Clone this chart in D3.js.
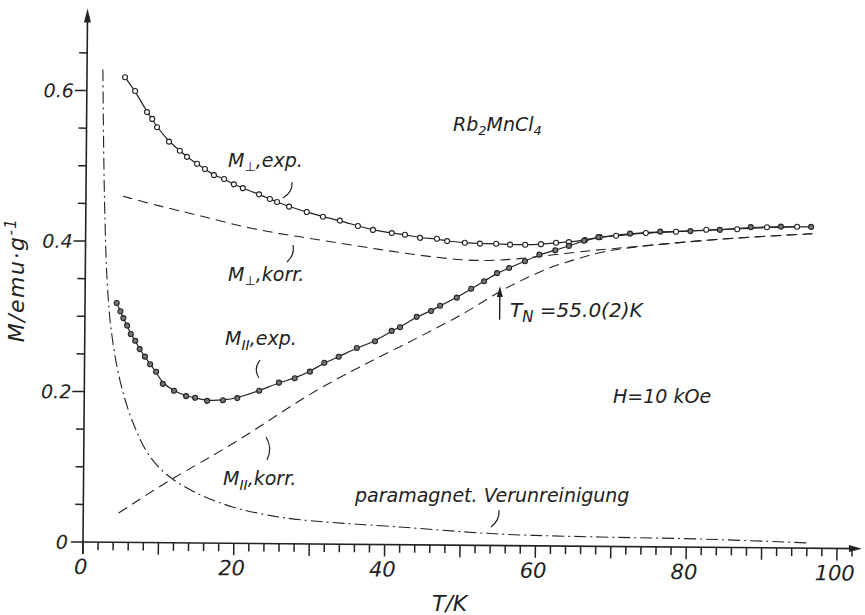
<!DOCTYPE html>
<html>
<head>
<meta charset="utf-8">
<script src="https://cdn.jsdelivr.net/npm/d3@7"></script>
<style>
  html, body { margin: 0; padding: 0; background: #fff; }
  svg text { font-family: "DejaVu Sans", "Liberation Sans", sans-serif; font-style: italic; fill: #222; }
</style>
</head>
<body>
<svg id="chart" width="865" height="615"></svg>
<script>
// Rb2MnCl4, H = 10 kOe : magnetisation M (emu/g) against temperature T (K)

// perpendicular field, measured (open circles)
const perpExpT = [5.05, 6.4, 8.0, 8.7, 9.35, 10.95, 12.4, 13.35, 14.7, 15.75, 16.95, 18.3, 19.6, 20.8,
  22.95, 24.4, 25.35, 26.95, 29.3, 31.45, 33.7, 36.1, 38.1, 40.6, 42.35, 44.35, 46.6, 47.95,
  50.3, 52.3, 54.45, 56.3, 58.3, 60.4, 62.4, 64.1, 66.25, 68.2, 70.35, 74.3, 78.3, 82.3, 86.4, 90.35, 94.35];
const perpExpM = [0.618, 0.600, 0.572, 0.563, 0.552, 0.533, 0.521, 0.513, 0.504, 0.497, 0.489, 0.484, 0.477, 0.472,
  0.464, 0.458, 0.454, 0.448, 0.441, 0.435, 0.430, 0.423, 0.418, 0.414, 0.412, 0.408, 0.407, 0.404,
  0.402, 0.401, 0.401, 0.400, 0.400, 0.401, 0.403, 0.404, 0.407, 0.411, 0.413, 0.417, 0.419, 0.422, 0.423, 0.426, 0.427];

// parallel field, measured (filled circles)
const parExpT = [4.2, 4.7, 5.1, 5.6, 6.1, 6.7, 7.3, 8.0, 8.7, 9.5, 10.4, 11.9, 13.5, 14.7, 16.3, 18.4, 20.3,
  23.2, 25.8, 27.9, 29.9, 31.8, 33.7, 36.1, 38.5, 40.7, 41.8, 44.0, 45.9, 47.1, 49.3, 51.2, 52.9,
  54.6, 56.2, 58.3, 60.2, 62.3, 64.1, 66.1, 68.0, 72.2, 76.2, 80.2, 84.1, 88.2, 92.2, 96.2];
const parExpM = [0.318, 0.307, 0.298, 0.288, 0.277, 0.268, 0.257, 0.247, 0.237, 0.227, 0.211, 0.202, 0.195, 0.193, 0.189, 0.190, 0.193,
  0.203, 0.214, 0.220, 0.229, 0.241, 0.249, 0.261, 0.270, 0.284, 0.289, 0.303, 0.311, 0.318, 0.329, 0.341, 0.351,
  0.362, 0.369, 0.378, 0.387, 0.393, 0.399, 0.406, 0.411, 0.416, 0.419, 0.420, 0.422, 0.426, 0.427, 0.427];

// corrected curves (dashed)
const perpKorrT = [4.9, 9.8, 15.2, 21.8, 28.4, 35.1, 41.7, 48.4, 52.3, 56.7, 62.0, 67.8, 72.2, 81.9, 88.5, 96.4];
const perpKorrM = [0.460, 0.447, 0.435, 0.418, 0.408, 0.398, 0.388, 0.380, 0.378, 0.380, 0.387, 0.394, 0.398, 0.408, 0.413, 0.418];
const parKorrT = [4.7, 11.9, 19.8, 28.2, 33.5, 37.5, 41.8, 46.2, 50.7, 54.1, 57.3, 61.6, 66.0, 68.2, 72.2, 81.9, 88.5, 96.4];
const parKorrM = [0.039, 0.087, 0.131, 0.189, 0.220, 0.241, 0.263, 0.286, 0.310, 0.333, 0.350, 0.371, 0.384, 0.391, 0.398, 0.408, 0.413, 0.418];

// paramagnetic impurity contribution (dash-dot)
const paraT = [2.1, 2.3, 2.55, 2.9, 3.5, 4.7, 6.5, 8.8, 11.5, 15.5, 19.9, 24.4, 28.8, 42.0, 55.3, 68.6, 81.8, 96.4];
const paraM = [0.628, 0.521, 0.428, 0.348, 0.282, 0.216, 0.159, 0.114, 0.087, 0.064, 0.048, 0.038, 0.032, 0.0235, 0.0153, 0.0125, 0.011, 0.0069];

// axis ticks
const xTicks = d3.range(0, 104, 2);
const xLabels = [0, 20, 40, 60, 80, 100];
const yTicks = d3.range(0, 14).map(i => +(i * 0.05).toFixed(2));
const yLabels = [0, 0.2, 0.4, 0.6];

const tN = 55.0;

const ink = "#222";
const svg = d3.select("#chart");
const x = d3.scaleLinear().domain([0, 100]).range([83, 837]);
const y = d3.scaleLinear().domain([0, 0.6]).range([542, 90.5]);
const x0 = x(0), y0 = y(0);

// the plot sits on a very slightly turned sheet
const plot = svg.append("g").attr("transform", `rotate(0.49, ${x0}, ${y0})`);

// tick marks
const tickPath = xTicks.map(d => `M${x(d)},${y0}V${y0 + (d % 10 === 0 ? 12 : 8)}`).join("") +
  yTicks.map(d => `M${x0},${y(d)}H${x0 - (yLabels.includes(d) ? 12 : 8)}`).join("");
plot.append("path").attr("class", "ticks").attr("d", tickPath)
  .attr("fill", "none").attr("stroke", ink).attr("stroke-width", 1.5);

// tick labels
plot.append("g").selectAll("text").data(xLabels).join("text")
  .attr("x", d => x(d) - 2).attr("y", y0 + 32).attr("text-anchor", "middle")
  .attr("font-size", 21).text(d => d);
plot.append("g").selectAll("text").data(yLabels).join("text")
  .attr("x", d => x0 - (d === 0 ? 15 : 13)).attr("y", d => y(d) + 7).attr("text-anchor", "end")
  .attr("font-size", 19).text(d => d === 0 ? "0" : d3.format(".1f")(d));

// axis lines with arrow heads
const xEnd = x.range()[1] + 25, yEnd = y.range()[1] - 82;
plot.append("line").attr("x1", x0).attr("y1", y0).attr("x2", xEnd - 6).attr("y2", y0)
  .attr("stroke", ink).attr("stroke-width", 1.6);
plot.append("line").attr("x1", x0).attr("y1", y0 + 12).attr("x2", x0).attr("y2", yEnd + 6)
  .attr("stroke", ink).attr("stroke-width", 1.6);
plot.append("path").attr("d", `M${xEnd},${y0} L${xEnd - 13},${y0 - 3.5} L${xEnd - 13},${y0 + 3.5} Z`).attr("fill", ink);
plot.append("path").attr("d", `M${x0},${yEnd} L${x0 - 3.5},${yEnd + 14} L${x0 + 3.5},${yEnd + 14} Z`).attr("fill", ink);

// curves
const zip = (ts, ms) => ts.map((t, i) => [t, ms[i]]);
const smooth = d3.line().x(d => x(d[0])).y(d => y(d[1])).curve(d3.curveBasis);
const through = d3.line().x(d => x(d[0])).y(d => y(d[1])).curve(d3.curveCatmullRom.alpha(0.5));

plot.append("path").attr("d", smooth(zip(perpKorrT, perpKorrM)))
  .attr("fill", "none").attr("stroke", ink).attr("stroke-width", 1.1).attr("stroke-dasharray", "10,6");
plot.append("path").attr("d", smooth(zip(parKorrT, parKorrM)))
  .attr("fill", "none").attr("stroke", ink).attr("stroke-width", 1.1).attr("stroke-dasharray", "10,6");
plot.append("path").attr("d", through(zip(paraT, paraM)))
  .attr("fill", "none").attr("stroke", ink).attr("stroke-width", 1.1).attr("stroke-dasharray", "12,4,2,4");

plot.append("path").attr("d", smooth(zip(perpExpT, perpExpM)))
  .attr("fill", "none").attr("stroke", ink).attr("stroke-width", 1.2);
plot.append("path").attr("d", smooth(zip(parExpT, parExpM)))
  .attr("fill", "none").attr("stroke", ink).attr("stroke-width", 1.2);

plot.append("g").selectAll("circle").data(zip(perpExpT, perpExpM)).join("circle")
  .attr("cx", d => x(d[0])).attr("cy", d => y(d[1])).attr("r", 2.5)
  .attr("fill", "#fff").attr("stroke", ink).attr("stroke-width", 1.1);
plot.append("g").selectAll("circle").data(zip(parExpT, parExpM)).join("circle")
  .attr("cx", d => x(d[0])).attr("cy", d => y(d[1])).attr("r", 2.5)
  .attr("fill", "#777").attr("stroke", ink).attr("stroke-width", 1.1);

// Néel temperature marker
const arrowTop = y(0.345), arrowBot = y(0.300);
plot.append("line").attr("x1", x(tN)).attr("x2", x(tN)).attr("y1", arrowBot).attr("y2", arrowTop + 8)
  .attr("stroke", ink).attr("stroke-width", 1.4);
plot.append("path").attr("d", `M${x(tN)},${arrowTop} L${x(tN) - 3},${arrowTop + 11} L${x(tN) + 3},${arrowTop + 11} Z`).attr("fill", ink);

// labels
const ann = svg.append("g");
function label(xp, yp, parts, size) {
  const t = ann.append("text").attr("x", xp).attr("y", yp).attr("font-size", size);
  parts.forEach(p => {
    const s = t.append("tspan").text(p.t);
    if (p.size) s.attr("font-size", p.size);
    if (p.dy) s.attr("dy", p.dy);
  });
  return t;
}
label(453, 131, [{t: "Rb"}, {t: "2", size: 13, dy: 4}, {t: "MnCl", dy: -4}, {t: "4", size: 13, dy: 4}], 19);
label(228, 167, [{t: "M"}, {t: "⊥", size: 13, dy: 4}, {t: ",exp.", dy: -4}], 19);
label(228, 281, [{t: "M"}, {t: "⊥", size: 13, dy: 4}, {t: ",korr.", dy: -4}], 19);
label(225, 345, [{t: "M"}, {t: "II", size: 14, dy: 5}, {t: ",exp.", dy: -5}], 19);
label(223, 485, [{t: "M"}, {t: "II", size: 14, dy: 5}, {t: ",korr.", dy: -5}], 19);
label(355, 502, [{t: "paramagnet. Verunreinigung"}], 19);
label(613, 403, [{t: "H=10 kOe"}], 19);
label(510, 317, [{t: "T"}, {t: "N", size: 15, dy: 5}, {t: " =55.0(2)K", dy: -5}], 20);
label(432, 611, [{t: "T/K"}], 22);

// vertical axis title
ann.append("text").attr("transform", "translate(24, 280) rotate(-90)")
  .attr("text-anchor", "middle").attr("font-size", 22).attr("letter-spacing", 1.5)
  .call(t => {
    t.append("tspan").text("M/emu·g");
    t.append("tspan").text("-1").attr("font-size", 15).attr("dy", -8);
  });

// leader strokes tying labels to curves
const leaders = [
  "M292,182 Q293,192 283,198",
  "M293,245 Q295,255 287,262",
  "M260,360 Q253,369 259,378",
  "M266,437 Q273,448 267,460",
  "M499,510 Q500,520 491,527"
];
ann.selectAll("path.leader").data(leaders).join("path").attr("class", "leader")
  .attr("d", d => d).attr("fill", "none").attr("stroke", ink).attr("stroke-width", 1.2);
</script>
</body>
</html>
